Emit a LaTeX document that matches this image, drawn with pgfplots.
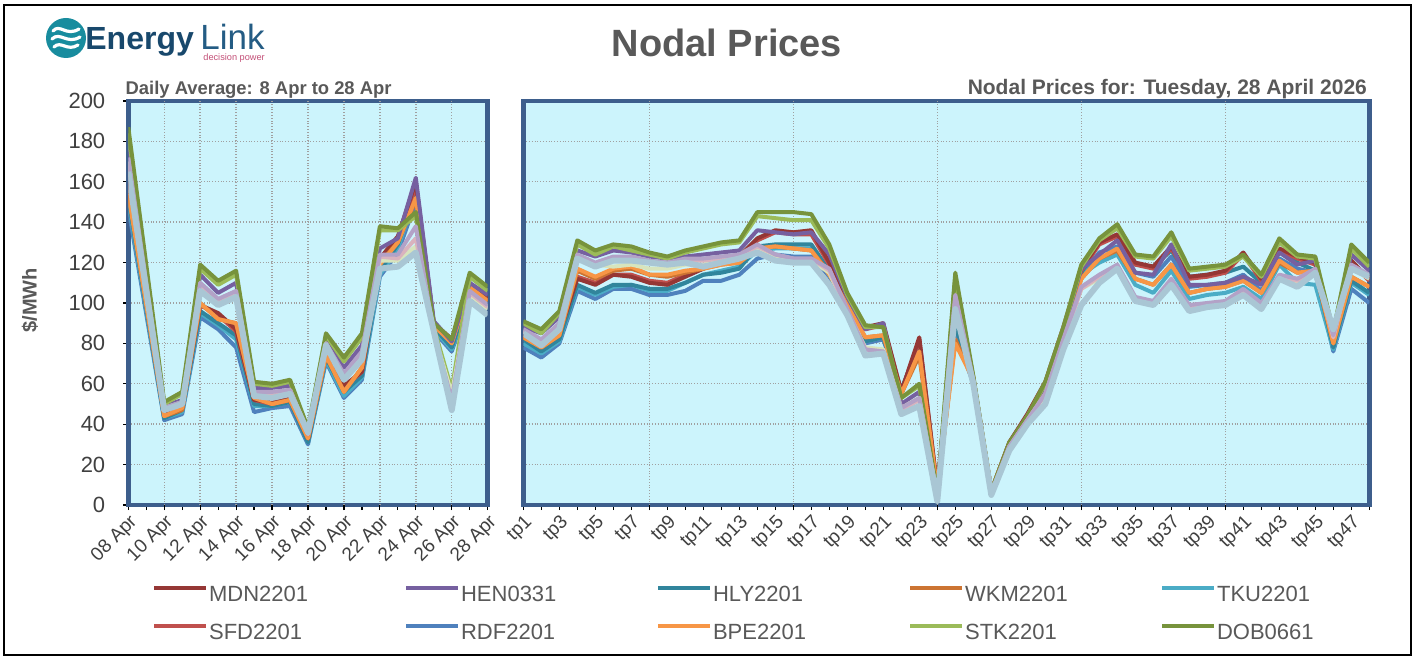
\documentclass[border=0pt]{standalone}
\usepackage{fontspec}
\setmainfont{Liberation Sans}
\usepackage{pgfplots}
\usepackage{pgfplotstable}
\pgfplotsset{compat=1.18}

\definecolor{plotbg}{RGB}{204,244,252}
\definecolor{frameblue}{RGB}{61,94,140}
\definecolor{gridgray}{RGB}{160,160,160}
\definecolor{ticktext}{RGB}{64,64,64}
\definecolor{titlegray}{RGB}{89,89,89}
\definecolor{logoteal}{RGB}{24,140,158}
\definecolor{logoblue}{RGB}{24,72,108}
\definecolor{logoblue2}{RGB}{36,92,132}
\definecolor{logopink}{RGB}{196,80,120}
\definecolor{cMDN}{HTML}{953735}
\definecolor{cHEN}{HTML}{7660A0}
\definecolor{cHLY}{HTML}{31859C}
\definecolor{cWKM}{HTML}{CC7432}
\definecolor{cTKU}{HTML}{4BACC6}
\definecolor{cSFD}{HTML}{C0504D}
\definecolor{cRDF}{HTML}{4F81BD}
\definecolor{cBPE}{HTML}{F79646}
\definecolor{cSTK}{HTML}{9BBB59}
\definecolor{cDOB}{HTML}{77933C}
\definecolor{cLAV}{HTML}{B3A2C7}
\definecolor{cPNK}{HTML}{D9B3BE}
\definecolor{cPGR}{HTML}{D7E4BD}
\definecolor{cGBL}{HTML}{A9C6D4}

\pgfplotstableread{
x MDN HEN HLY WKM TKU SFD RDF BPE STK DOB LAV PNK PGR GBL
0 160 176 152 156 150 158 147 154 184 187 172 168 170 165
1 102.5 112.5 97.5 100 96.5 101.5 94.5 99 117 119 110 107.5 109 106
2 45 49 43 44 43 45 42 44 50 51 48 47 48 47
3 48 52 47 47 46 48 45 48 55 56 51 50 51 50
4 99 114 96 100 95 99 93 100 117 119 110 108 109 106
5 95 105 90 92 89 94 87 92 109 111 102 100 101 99
6 87 110 84 90 82 86 78 90 114 116 106 104 105 103
7 52 58 50 53 49 52 46 53 60 61 56 55 56 54
8 51 58 49 50 49 50 48 50 59 60 56 54 55 53
9 53 59 51 52 51 52 49 52 61 62 57 56 57 55
10 33 35 31 33 31 33 30 33 37 38 36 35 36 36
11 75 81 73 74 72 74 71 74 84 85 80 79 80 79
12 59 68 56 56 54 58 53 56 71 73 65 63 64 62
13 66 79 64 68 63 66 62 68 83 85 76 74 75 72
14 122 127 116 120 114 120 113 119 136 138 124 123 121 117
15 133 132 129 130 127 131 125 130 136 137 124 122 121 118
16 160 162 155 151 154 158 150 152 143 145 138 132 128 125
17 90 91 88 89 87 90 86 89 88 90 85 86 85 86
18 82 81 78 81 77 82 76 80 57 82 52 50 55 47
19 108 110 105 107 104 108 103 108 113 115 106 105 104 101
20 102 104 100 101 98 102 97 101 106 108 99 98 97 94
}\dailytab

\pgfplotstableread{
x DOB STK HEN LAV PNK PGR GBL BPE WKM MDN SFD HLY TKU RDF
1 91 90 88 87 86 86 85 83 83 84 84 82 80 78
2 87 85 85 82 81 81 79 78 78 79 78 76 75 73
3 96 95 93 90 89 89 87 84 84 85 85 82 81 80
4 131 129 126 124 123 123 122 117 116 112 113 109 108 106
5 126 124 123 120 119 119 118 113 112 109 110 105 104 102
6 129 128 126 123 121 118 121 117 116 114 114 109 108 107
7 128 126 125 123 121 119 121 118 117 113 114 109 109 107
8 125 124 123 121 120 117 120 114 114 110 111 107 106 104
9 123 122 122 120 119 117 119 114 113 109 110 107 106 104
10 126 125 123 122 121 119 120 116 115 113 114 110 110 106
11 128 127 124 122 121 119 118 117 117 117 117 114 114 111
12 130 129 125 123 122 121 120 119 119 122 121 115 116 111
13 131 130 126 124 123 122 122 120 120 123 122 117 118 114
14 145 143 136 129 128 127 125 127 127 132 131 128 126 122
15 145 142 135 124 124 123 121 128 128 136 135 129 127 124
16 145 141 134 122 122 121 120 127 127 135 134 129 127 123
17 144 141 135 122 122 121 120 126 126 136 134 129 127 123
18 129 127 124 117 116 115 109 114 115 120 119 116 114 113
19 105 104 103 97 96 96 94 99 99 102 101 99 98 97
20 89 88 87 77 77 78 74 83 83 88 87 81 81 80
21 88 88 90 76 76 77 75 84 84 90 89 83 83 82
22 53 53 50 48 47 48 45 55 55 56 56 57 57 55
23 60 59 56 53 52 53 49 76 74 83 82 80 80 78
24 6 5 5 4 4 4 2 7 7 8 8 6 5 4
25 115 113 108 104 103 101 97 80 82 102 100 89 90 86
26 64 63 62 62 61 61 60 62 62 63 63 61 61 60
27 7 7 6 6 6 6 5 7 7 7 7 6 6 6
28 31 30 30 29 29 28 27 30 30 31 31 30 30 30
29 44 44 44 42 42 41 40 43 43 45 44 43 43 43
30 61 60 59 55 55 54 50 59 59 61 60 59 59 58
31 88 87 86 82 81 81 77 85 85 88 87 86 85 85
32 119 118 117 108 107 107 99 112 112 117 116 115 114 114
33 132 131 124 114 113 112 110 122 122 130 129 130 120 125
34 139 137 131 119 118 118 117 127 126 134 133 133 124 128
35 124 123 115 103 102 102 101 112 112 120 119 119 109 115
36 123 122 114 101 100 100 99 109 109 118 117 118 105 113
37 135 133 129 112 111 111 109 119 119 128 127 126 116 123
38 117 116 109 99 98 98 96 105 105 113 112 113 102 108
39 118 117 109 100 99 99 98 107 107 114 113 114 104 109
40 119 118 110 101 100 100 99 108 108 116 115 115 105 110
41 124 123 113 107 106 106 104 111 111 125 124 118 108 114
42 114 113 109 100 99 99 97 105 105 112 111 110 102 106
43 132 130 125 114 113 113 112 121 120 127 126 126 119 122
44 124 123 119 112 111 110 108 115 115 123 122 120 110 117
45 123 122 121 117 116 116 115 116 116 120 119 116 109 115
46 86 86 85 84 83 84 87 80 80 82 82 78 77 76
47 129 127 124 119 118 117 117 113 113 121 120 111 110 107
48 120 118 116 114 113 112 113 108 108 112 111 105 104 100
}\tptab

\pgfplotsset{
  panel/.style={
    scale only axis, anchor=south west, height=202pt,
    ymin=0, ymax=200, ytick={0,20,...,200},
    axis background/.style={fill=plotbg},
    axis line style={draw=frameblue, line width=2.4pt},
    ymajorgrids,
    grid style={gridgray, densely dotted, line width=0.7pt},
    tick align=outside, major tick length=2.5pt,
    tick style={black, line width=0.6pt},
    xtick pos=bottom, ytick pos=left,
    xticklabel style={rotate=45, anchor=north east, font=\fontsize{9.5}{10}\selectfont, text=ticktext, inner sep=1pt},
    yticklabel style={font=\fontsize{11}{12}\selectfont, text=ticktext, xshift=-5.5pt},
    /pgf/number format/assume math mode=true,
    every axis plot/.append style={line width=2pt, line join=round, forget plot},
  },
}

\begin{document}
\begin{tikzpicture}[x=0.5pt,y=0.5pt]
\path[use as bounding box] (0,0) rectangle (1419,659);
\fill[white] (0,0) rectangle (1419,659);
\draw[black,line width=0.7pt] (4,4) rectangle (1411,654);

% logo
\fill[logoteal] (66,621) circle (20);
\draw[white,line width=1.6pt,line cap=round] (53,628) .. controls (60,636) and (66,622) .. (79,630);
\draw[white,line width=1.6pt,line cap=round] (52,620) .. controls (60,628) and (67,614) .. (80,622);
\draw[white,line width=1.6pt,line cap=round] (54,612) .. controls (61,619) and (67,607) .. (78,614);
\node[anchor=base west,inner sep=0,font=\fontsize{16}{16}\bfseries,text=logoblue] at (85,609) {Energy};
\node[anchor=base west,inner sep=0,font=\fontsize{17.5}{18}\selectfont,text=logoblue2] at (200,609) {Link};
\node[anchor=base west,inner sep=0,font=\fontsize{4.6}{5}\selectfont,text=logopink] at (203,598) {decision power};

% title
\node[font=\fontsize{19}{20}\bfseries,text=titlegray] at (727,616) {Nodal Prices};

% left panel
\begin{axis}[panel,
  at={(64.15pt,77pt)}, width=179.7pt,
  xmin=0, xmax=20,
  xtick={0,...,20},
  xticklabels={08 Apr,,10 Apr,,12 Apr,,14 Apr,,16 Apr,,18 Apr,,20 Apr,,22 Apr,,24 Apr,,26 Apr,,28 Apr},
  extra x ticks={2,4,...,18}, extra x tick labels={},
  extra x tick style={grid=major},
  ylabel={\$/MWh},
  ylabel style={at={(axis description cs:-0.2735,0.507)}, anchor=center, font=\fontsize{10}{12}\bfseries, text=titlegray},
  title={Daily Average: 8 Apr to 28 Apr},
  title style={at={(axis description cs:0,1)}, anchor=base west, xshift=-1.5pt, yshift=-2.7pt, inner sep=0pt, font=\fontsize{9.2}{10}\bfseries, text=titlegray},
]
\addplot[cRDF] table[x=x,y=RDF]{\dailytab};
\addplot[cTKU] table[x=x,y=TKU]{\dailytab};
\addplot[cHLY] table[x=x,y=HLY]{\dailytab};
\addplot[cSFD] table[x=x,y=SFD]{\dailytab};
\addplot[cMDN] table[x=x,y=MDN]{\dailytab};
\addplot[cWKM] table[x=x,y=WKM]{\dailytab};
\addplot[cBPE] table[x=x,y=BPE]{\dailytab};
\addplot[cHEN] table[x=x,y=HEN]{\dailytab};
\addplot[cSTK] table[x=x,y=STK]{\dailytab};
\addplot[cDOB] table[x=x,y=DOB]{\dailytab};
\addplot[cPGR] table[x=x,y=PGR]{\dailytab};
\addplot[cPNK] table[x=x,y=PNK]{\dailytab};
\addplot[cLAV] table[x=x,y=LAV]{\dailytab};
\addplot[cGBL,line width=3pt] table[x=x,y=GBL]{\dailytab};
\end{axis}

% right panel
\begin{axis}[panel,
  at={(261.65pt,77pt)}, width=423pt,
  xmin=1, xmax=48,
  xtick={1,...,48},
  xticklabels={tp1,,tp3,,tp5,,tp7,,tp9,,tp11,,tp13,,tp15,,tp17,,tp19,,tp21,,tp23,,tp25,,tp27,,tp29,,tp31,,tp33,,tp35,,tp37,,tp39,,tp41,,tp43,,tp45,,tp47,},
  extra x ticks={8,16,24,32,40}, extra x tick labels={},
  extra x tick style={grid=major},
  yticklabels={}, ytick style={draw=none},
  title={Nodal Prices for: Tuesday, 28 April 2026},
  title style={at={(axis description cs:1,1)}, anchor=base east, xshift=-1pt, yshift=-2.7pt, inner sep=0pt, font=\fontsize{10.5}{11}\bfseries, text=titlegray},
  legend columns=5,
  legend image code/.code={\draw[#1,line width=2pt] (0pt,3.8pt) -- (26pt,3.8pt);},
  legend style={at={(axis description cs:-0.4388,-0.198)}, anchor=north west,
    draw=none, fill=none, inner sep=0pt, outer sep=0pt,
    font=\fontsize{11}{13}\selectfont, text=titlegray,
    nodes={inner sep=0.5pt, text height=8pt, text depth=2pt},
    row sep=8pt, column sep=0pt},
]
\addplot[cRDF] table[x=x,y=RDF]{\tptab};
\addplot[cTKU] table[x=x,y=TKU]{\tptab};
\addplot[cHLY] table[x=x,y=HLY]{\tptab};
\addplot[cSFD] table[x=x,y=SFD]{\tptab};
\addplot[cMDN] table[x=x,y=MDN]{\tptab};
\addplot[cWKM] table[x=x,y=WKM]{\tptab};
\addplot[cBPE] table[x=x,y=BPE]{\tptab};
\addplot[cHEN] table[x=x,y=HEN]{\tptab};
\addplot[cSTK] table[x=x,y=STK]{\tptab};
\addplot[cDOB] table[x=x,y=DOB]{\tptab};
\addplot[cPGR] table[x=x,y=PGR]{\tptab};
\addplot[cPNK] table[x=x,y=PNK]{\tptab};
\addplot[cLAV] table[x=x,y=LAV]{\tptab};
\addplot[cGBL,line width=3pt] table[x=x,y=GBL]{\tptab};
\addlegendimage{cMDN}\addlegendentry{\makebox[97pt][l]{MDN2201}}
\addlegendimage{cHEN}\addlegendentry{\makebox[97pt][l]{HEN0331}}
\addlegendimage{cHLY}\addlegendentry{\makebox[97pt][l]{HLY2201}}
\addlegendimage{cWKM}\addlegendentry{\makebox[97pt][l]{WKM2201}}
\addlegendimage{cTKU}\addlegendentry{\makebox[97pt][l]{TKU2201}}
\addlegendimage{cSFD}\addlegendentry{\makebox[97pt][l]{SFD2201}}
\addlegendimage{cRDF}\addlegendentry{\makebox[97pt][l]{RDF2201}}
\addlegendimage{cBPE}\addlegendentry{\makebox[97pt][l]{BPE2201}}
\addlegendimage{cSTK}\addlegendentry{\makebox[97pt][l]{STK2201}}
\addlegendimage{cDOB}\addlegendentry{\makebox[97pt][l]{DOB0661}}
\end{axis}
\end{tikzpicture}
\end{document}
